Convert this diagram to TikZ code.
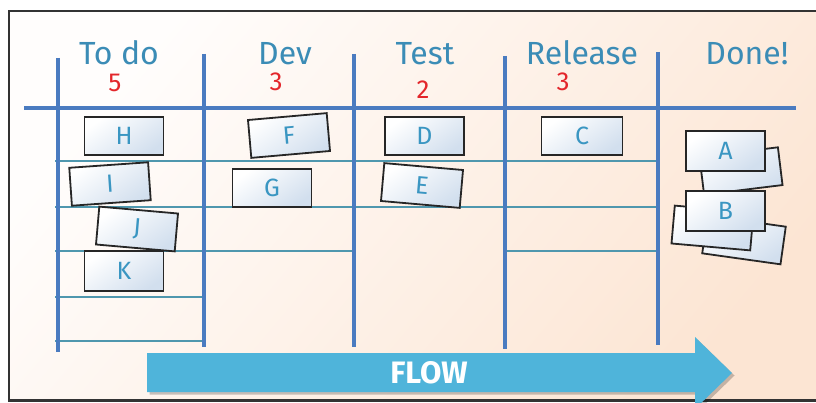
\documentclass[tikz,border=0pt]{standalone}
\usepackage{fontspec}
\setmainfont{Fira Sans}
\usetikzlibrary{shadows}
\definecolor{bgA}{HTML}{FFFDFC}
\definecolor{bgB}{HTML}{FCE5D3}
\definecolor{gridblue}{HTML}{4A7BC0}
\definecolor{rowteal}{HTML}{4F97AE}
\definecolor{headtxt}{HTML}{3B8CB6}
\definecolor{wipred}{HTML}{E3262B}
\definecolor{cardtxt}{HTML}{3A96C2}
\definecolor{cardblue}{HTML}{D2DFEE}
\definecolor{flowblue}{HTML}{4FB4DA}
\definecolor{framegray}{HTML}{333333}
\begin{document}
\begin{tikzpicture}[x=1pt,y=-1pt,
  colline/.style={draw=gridblue, line width=3.2pt},
  rowline/.style={draw=rowteal, line width=2.2pt},
  headtext/.style={text=headtxt, anchor=base, inner sep=0pt, font=\fontsize{32}{32}\selectfont},
  wiptext/.style={text=wipred, inner sep=0pt, font=\fontsize{26}{26}\selectfont},
  card/.style={draw=black!85, line width=1.8pt, minimum width=79pt, minimum height=38pt,
    inner sep=0pt, top color=white, bottom color=cardblue, shading angle=35,
    text=cardtxt, font=\fontsize{25}{25}\selectfont},
  flowtext/.style={text=white, inner sep=0pt, font=\fontsize{31}{31}\selectfont\bfseries}]
\useasboundingbox (0,0) rectangle (816,403);
% board background and frame
\draw[draw=framegray, line width=2.2pt, top color=bgA, bottom color=bgB, shading angle=50]
  (9,11) rectangle (840,400.5);
% thin row lines
\draw[rowline] (55,161) -- (656,161);
\draw[rowline] (55,207) -- (656,207);
\draw[rowline] (55,251) -- (355,251);
\draw[rowline] (505,251) -- (656,251);
\draw[rowline] (55,297) -- (204,297);
\draw[rowline] (55,341) -- (204,341);
% column lines
\draw[colline] (58,58) -- (58,352);
\draw[colline] (204,54) -- (204,347);
\draw[colline] (354,54) -- (354,347);
\draw[colline] (505,56) -- (505,349);
\draw[colline] (658,52) -- (658,345);
\draw[colline] (24,108) -- (796,108);
% headers
\node[headtext] (htodo) at (119,65) {To do};
\node[headtext] (hdev) at (285,65) {Dev};
\node[headtext] (htest) at (425,65) {Test};
\node[headtext] (hrel) at (582,65) {Release};
\node[headtext] (hdone) at (747,65) {Done!};
% WIP limits
\node[wiptext] (wtodo) at (115,83) {5};
\node[wiptext] (wdev) at (276,82) {3};
\node[wiptext] (wtest) at (423,90) {2};
\node[wiptext] (wrel) at (563,82) {3};
% cards
\node[card] (H) at (124,136) {H};
\node[card, rotate=4] (I) at (110,184) {I};
\node[card, rotate=-5] (J) at (137,229) {J};
\node[card, minimum height=40pt] (K) at (124,271) {K};
\node[card, rotate=5] (F) at (289,135.5) {F};
\node[card] (G) at (272,188) {G};
\node[card] (D) at (424.5,136) {D};
\node[card, rotate=-5] (E) at (422,185.5) {E};
\node[card, minimum width=81pt] (C) at (582,136) {C};
% done pile
\node[card, rotate=7] (backA) at (741,171) {};
\node[card, minimum height=40pt] (A) at (725.5,151) {A};
\node[card, rotate=-8] (backB2) at (744,240) {};
\node[card, rotate=-5] (backB1) at (712.5,228) {};
\node[card, minimum height=40pt] (B) at (725.5,211) {B};
% flow arrow
\fill[flowblue, drop shadow={shadow xshift=2.5pt, shadow yshift=-2.5pt, opacity=0.22, fill=black}]
  (147,353) -- (695,353) -- (695,337) -- (732,373) -- (695,409) -- (695,392) -- (147,392) -- cycle;
\node[flowtext] (flow) at (429,373) {FLOW};
\end{tikzpicture}
\end{document}
